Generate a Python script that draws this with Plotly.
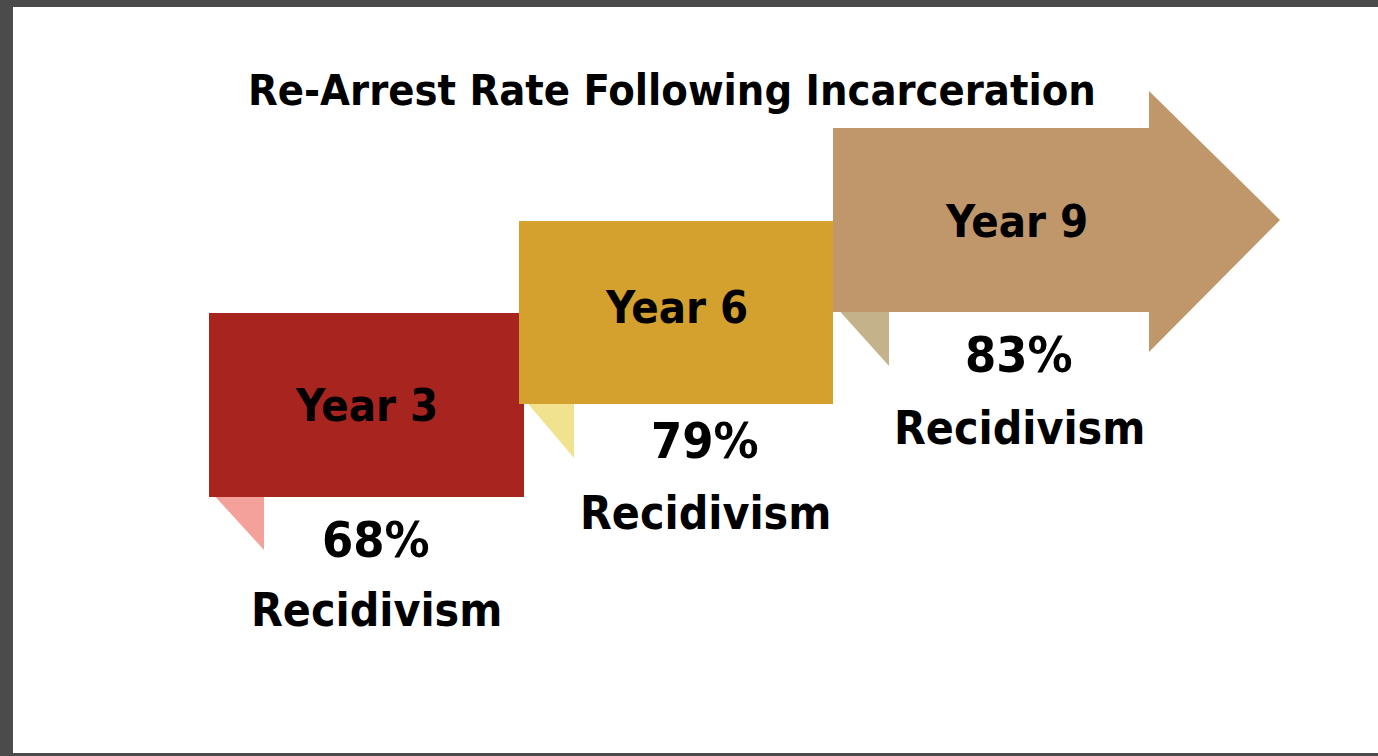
import plotly.graph_objects as go

# Data
years = ["Year 3", "Year 6", "Year 9"]
rates = [68, 79, 83]
rate_labels = [f"{r}%" for r in rates]
title = "Re-Arrest Rate Following Incarceration"

W, H = 1378, 756
FONT = "DejaVu Sans Condensed, Roboto, sans-serif"

box_colors = ["#A8241E", "#D4A02E", "#BF976A"]
fold_colors = ["#F4A19B", "#F1E28F", "#C4B38A"]

# layout geometry (pixel positions)
box_x0 = [209, 519, 833]
box_x1 = [524, 833, 1149]
box_y0 = [313, 221, 128]
box_y1 = [497, 404, 312]
fold_x0 = [211, 524, 836]
fold_x1 = [264, 574, 889]
fold_depth = [53, 54, 54]
label_x = [366, 676, 1016]
label_y = [405, 307, 221]
pct_x = [376, 705, 1019]
pct_y = [540, 441, 355]
rec_y = [610, 513, 428]

fig = go.Figure()
shapes = []
# frame
shapes.append(dict(type="rect", xref="x", yref="y", x0=13, x1=W + 5, y0=7, y1=753,
                   fillcolor="white", line=dict(width=0), layer="below"))

for i in range(len(years)):
    fx0, fx1, fy = fold_x0[i], fold_x1[i], box_y1[i]
    path = f"M {fx0},{fy - 5} L {fx1},{fy - 5} L {fx1},{fy + fold_depth[i]} Z"
    shapes.append(dict(type="path", xref="x", yref="y", path=path,
                       fillcolor=fold_colors[i], line=dict(width=0)))
for i in range(len(years)):
    if i < 2:
        shapes.append(dict(type="rect", xref="x", yref="y", x0=box_x0[i], x1=box_x1[i],
                           y0=box_y0[i], y1=box_y1[i], fillcolor=box_colors[i], line=dict(width=0)))
    else:
        x0, x1, y0, y1 = box_x0[i], box_x1[i], box_y0[i], box_y1[i]
        path = (f"M {x0},{y0} L {x1},{y0} L {x1},91 L 1280,{(y0 + y1) / 2} "
                f"L {x1},352 L {x1},{y1} L {x0},{y1} Z")
        shapes.append(dict(type="path", xref="x", yref="y", path=path,
                           fillcolor=box_colors[i], line=dict(width=0)))

annotations = []
annotations.append(dict(x=672, y=90, xref="x", yref="y", text=f"<b>{title}</b>", showarrow=False,
                        font=dict(family=FONT, size=43, color="black"), xanchor="center", yanchor="middle"))
for i in range(len(years)):
    annotations.append(dict(x=label_x[i], y=label_y[i], xref="x", yref="y", text=f"<b>{years[i]}</b>",
                            showarrow=False, font=dict(family=FONT, size=45, color="black"),
                            xanchor="center", yanchor="middle"))
    annotations.append(dict(x=pct_x[i], y=pct_y[i], xref="x", yref="y", text=f"<b>{rate_labels[i]}</b>",
                            showarrow=False, font=dict(family=FONT, size=50, color="black"),
                            xanchor="center", yanchor="middle"))
    annotations.append(dict(x=pct_x[i], y=rec_y[i], xref="x", yref="y", text="<b>Recidivism</b>",
                            showarrow=False, font=dict(family=FONT, size=46, color="black"),
                            xanchor="center", yanchor="middle"))

fig.update_layout(
    width=W, height=H, margin=dict(l=0, r=0, t=0, b=0),
    paper_bgcolor="#4B4B4B", plot_bgcolor="#4B4B4B",
    xaxis=dict(range=[0, W], visible=False, fixedrange=True),
    yaxis=dict(range=[H, 0], visible=False, fixedrange=True),
    shapes=shapes, annotations=annotations, showlegend=False,
)
fig.write_html("out.html")
